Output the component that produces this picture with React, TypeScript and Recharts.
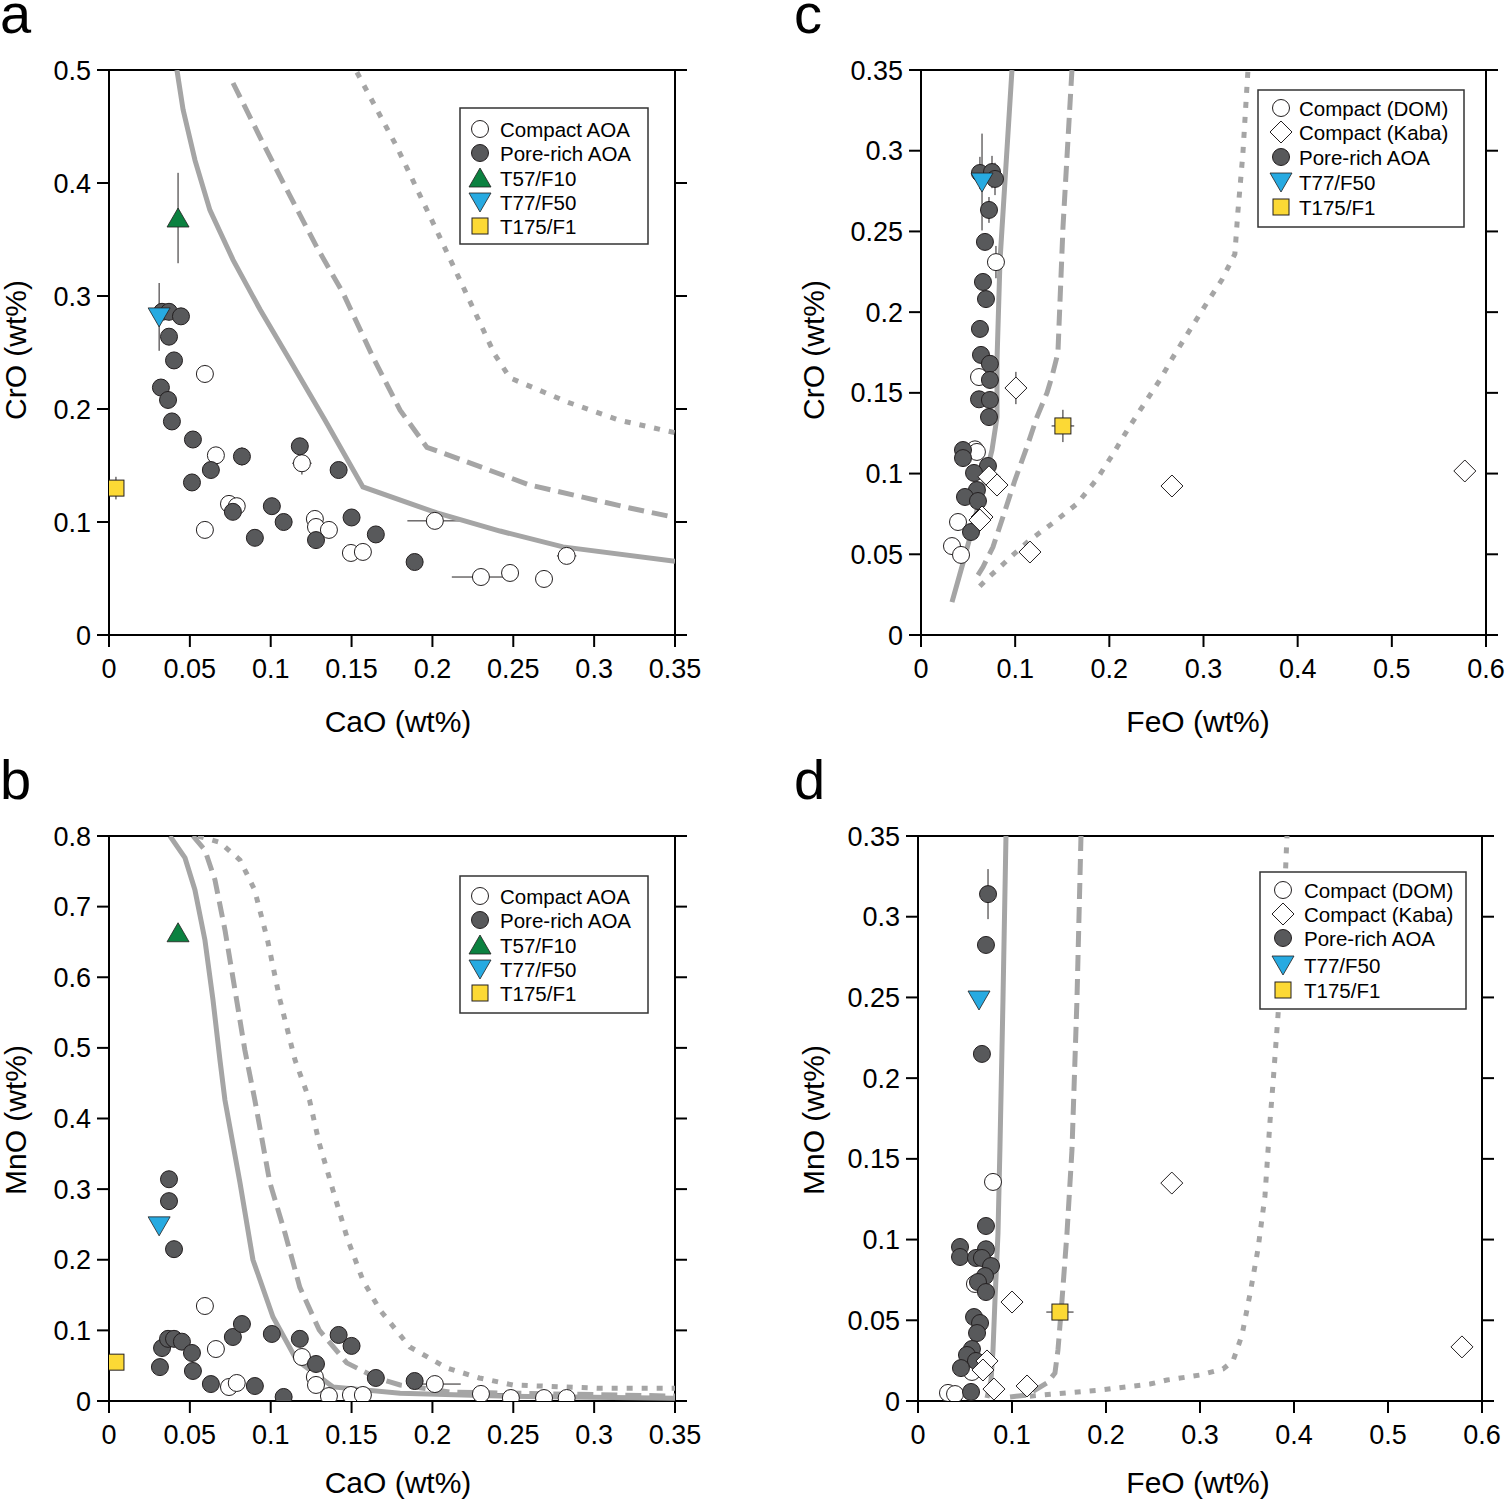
import React from 'react';
import { ScatterChart, Scatter, XAxis, YAxis, ErrorBar } from 'recharts';

type Pt = { x: number; y: number; ex?: number; ey?: number };

// ---- panel a: CrO vs CaO ----
const aCompact: Pt[] = [
  { x: 0.0593, y: 0.231, ex: 0.003, ey: 0.008 },
  { x: 0.0661, y: 0.159 },
  { x: 0.1193, y: 0.152, ex: 0.006, ey: 0.01 },
  { x: 0.0742, y: 0.116 },
  { x: 0.079, y: 0.114 },
  { x: 0.0593, y: 0.093 },
  { x: 0.1273, y: 0.1027 },
  { x: 0.128, y: 0.0956 },
  { x: 0.136, y: 0.093 },
  { x: 0.1496, y: 0.0726 },
  { x: 0.157, y: 0.0735 },
  { x: 0.2015, y: 0.101, ex: 0.017 },
  { x: 0.23, y: 0.0513, ex: 0.018 },
  { x: 0.248, y: 0.0549, ex: 0.005 },
  { x: 0.269, y: 0.0496, ex: 0.005 },
  { x: 0.283, y: 0.07, ex: 0.006 },
];
const aPore: Pt[] = [
  { x: 0.0328, y: 0.286, ey: 0.007 },
  { x: 0.0371, y: 0.286, ey: 0.007 },
  { x: 0.0445, y: 0.282, ey: 0.007 },
  { x: 0.0371, y: 0.264 },
  { x: 0.0402, y: 0.243 },
  { x: 0.0321, y: 0.219 },
  { x: 0.0365, y: 0.208 },
  { x: 0.0389, y: 0.189 },
  { x: 0.0519, y: 0.173 },
  { x: 0.063, y: 0.146 },
  { x: 0.0513, y: 0.135 },
  { x: 0.0822, y: 0.158, ey: 0.008 },
  { x: 0.0766, y: 0.109 },
  { x: 0.1007, y: 0.114 },
  { x: 0.108, y: 0.1 },
  { x: 0.0902, y: 0.086 },
  { x: 0.118, y: 0.167 },
  { x: 0.128, y: 0.084 },
  { x: 0.142, y: 0.146 },
  { x: 0.15, y: 0.104 },
  { x: 0.165, y: 0.089 },
  { x: 0.189, y: 0.0646 },
];
const aT57: Pt[] = [{ x: 0.0427, y: 0.369, ey: 0.04 }];
const aT77: Pt[] = [{ x: 0.031, y: 0.2815, ey: 0.03 }];
const aT175: Pt[] = [{ x: 0.0043, y: 0.13, ey: 0.01 }];
const aSolid: Pt[] = [
  { x: 0.042, y: 0.5 }, { x: 0.0458, y: 0.465 }, { x: 0.0532, y: 0.42 }, { x: 0.0624, y: 0.376 },
  { x: 0.0767, y: 0.332 }, { x: 0.0934, y: 0.288 }, { x: 0.112, y: 0.243 }, { x: 0.1336, y: 0.19 },
  { x: 0.157, y: 0.131 }, { x: 0.2028, y: 0.108 }, { x: 0.2418, y: 0.092 }, { x: 0.2807, y: 0.078 },
  { x: 0.35, y: 0.0652 },
];
const aDashed: Pt[] = [
  { x: 0.0767, y: 0.4885 }, { x: 0.0952, y: 0.4354 }, { x: 0.11, y: 0.394 }, { x: 0.1286, y: 0.343 },
  { x: 0.1447, y: 0.3027 }, { x: 0.1632, y: 0.246 }, { x: 0.18, y: 0.199 }, { x: 0.1966, y: 0.166 },
  { x: 0.2065, y: 0.161 }, { x: 0.26, y: 0.1328 }, { x: 0.322, y: 0.1124 }, { x: 0.35, y: 0.104 },
];
const aDotted: Pt[] = [
  { x: 0.1533, y: 0.498 }, { x: 0.178, y: 0.432 }, { x: 0.198, y: 0.372 }, { x: 0.22, y: 0.305 },
  { x: 0.2386, y: 0.248 }, { x: 0.248, y: 0.2275 }, { x: 0.2837, y: 0.206 }, { x: 0.3158, y: 0.19 },
  { x: 0.35, y: 0.179 },
];

// ---- panel b: MnO vs CaO ----
const bCompact: Pt[] = [
  { x: 0.0593, y: 0.1345 },
  { x: 0.0661, y: 0.0736 },
  { x: 0.0742, y: 0.0198 },
  { x: 0.079, y: 0.0255 },
  { x: 0.1193, y: 0.0623 },
  { x: 0.1273, y: 0.034 },
  { x: 0.128, y: 0.0227 },
  { x: 0.136, y: 0.007 },
  { x: 0.1496, y: 0.0085 },
  { x: 0.157, y: 0.0085 },
  { x: 0.2015, y: 0.024, ex: 0.016 },
  { x: 0.23, y: 0.01, ex: 0.018 },
  { x: 0.2485, y: 0.0042 },
  { x: 0.269, y: 0.0042 },
  { x: 0.283, y: 0.0042 },
];
const bPore: Pt[] = [
  { x: 0.0371, y: 0.314, ey: 0.01 },
  { x: 0.0371, y: 0.283 },
  { x: 0.0402, y: 0.215 },
  { x: 0.0328, y: 0.075 },
  { x: 0.0365, y: 0.088 },
  { x: 0.0402, y: 0.088 },
  { x: 0.0451, y: 0.084 },
  { x: 0.0315, y: 0.048 },
  { x: 0.0513, y: 0.068 },
  { x: 0.0519, y: 0.0425 },
  { x: 0.063, y: 0.024 },
  { x: 0.0766, y: 0.0906 },
  { x: 0.0822, y: 0.109 },
  { x: 0.0902, y: 0.0212 },
  { x: 0.1007, y: 0.0949 },
  { x: 0.108, y: 0.0057 },
  { x: 0.118, y: 0.088 },
  { x: 0.128, y: 0.0524 },
  { x: 0.142, y: 0.0935 },
  { x: 0.15, y: 0.078 },
  { x: 0.165, y: 0.0326 },
  { x: 0.189, y: 0.0283 },
];
const bT57: Pt[] = [{ x: 0.0427, y: 0.663 }];
const bT77: Pt[] = [{ x: 0.031, y: 0.248 }];
const bT175: Pt[] = [{ x: 0.0043, y: 0.055 }];
const bSolid: Pt[] = [
  { x: 0.0377, y: 0.8 }, { x: 0.047, y: 0.769 }, { x: 0.0531, y: 0.724 }, { x: 0.0593, y: 0.653 },
  { x: 0.0643, y: 0.568 }, { x: 0.0686, y: 0.483 }, { x: 0.0717, y: 0.426 }, { x: 0.081, y: 0.309 },
  { x: 0.089, y: 0.2 }, { x: 0.1014, y: 0.119 }, { x: 0.116, y: 0.058 }, { x: 0.1384, y: 0.02 },
  { x: 0.18, y: 0.011 }, { x: 0.2416, y: 0.007 }, { x: 0.35, y: 0.004 },
];
const bDashed: Pt[] = [
  { x: 0.0519, y: 0.8 }, { x: 0.0593, y: 0.78 }, { x: 0.0655, y: 0.738 }, { x: 0.0717, y: 0.667 },
  { x: 0.0779, y: 0.582 }, { x: 0.084, y: 0.497 }, { x: 0.0902, y: 0.426 }, { x: 0.0995, y: 0.309 },
  { x: 0.1088, y: 0.238 }, { x: 0.118, y: 0.161 }, { x: 0.13, y: 0.1005 }, { x: 0.147, y: 0.054 },
  { x: 0.1656, y: 0.0326 }, { x: 0.18, y: 0.0227 }, { x: 0.211, y: 0.0127 }, { x: 0.35, y: 0.007 },
];
const bDotted: Pt[] = [
  { x: 0.055, y: 0.8 }, { x: 0.0686, y: 0.791 }, { x: 0.081, y: 0.766 }, { x: 0.09, y: 0.724 },
  { x: 0.098, y: 0.653 }, { x: 0.1057, y: 0.568 }, { x: 0.115, y: 0.483 }, { x: 0.124, y: 0.426 },
  { x: 0.13, y: 0.365 }, { x: 0.1384, y: 0.299 }, { x: 0.1477, y: 0.228 }, { x: 0.157, y: 0.171 },
  { x: 0.1675, y: 0.129 }, { x: 0.186, y: 0.0765 }, { x: 0.209, y: 0.0467 }, { x: 0.229, y: 0.0326 },
  { x: 0.2497, y: 0.0227 }, { x: 0.3034, y: 0.018 }, { x: 0.35, y: 0.018 },
];

// ---- panel c: CrO vs FeO ----
const cDom: Pt[] = [
  { x: 0.0796, y: 0.231, ey: 0.01 },
  { x: 0.0616, y: 0.1598 },
  { x: 0.0573, y: 0.115 },
  { x: 0.0594, y: 0.1134 },
  { x: 0.0393, y: 0.07 },
  { x: 0.0329, y: 0.0551 },
  { x: 0.0425, y: 0.0496 },
];
const cKaba: Pt[] = [
  { x: 0.1008, y: 0.153, ex: 0.002, ey: 0.01 },
  { x: 0.0722, y: 0.098 },
  { x: 0.0807, y: 0.0929 },
  { x: 0.0648, y: 0.0731 },
  { x: 0.0626, y: 0.0712 },
  { x: 0.1157, y: 0.0514 },
  { x: 0.2665, y: 0.0923 },
  { x: 0.5775, y: 0.1016, ex: 0.01 },
];
const cPore: Pt[] = [
  { x: 0.0626, y: 0.2862, ey: 0.01 },
  { x: 0.0754, y: 0.2868, ey: 0.01 },
  { x: 0.0786, y: 0.2825, ey: 0.01 },
  { x: 0.0722, y: 0.2633, ey: 0.008 },
  { x: 0.0679, y: 0.2435 },
  { x: 0.0658, y: 0.2187 },
  { x: 0.069, y: 0.2081 },
  { x: 0.0626, y: 0.1896 },
  { x: 0.0637, y: 0.1735 },
  { x: 0.0732, y: 0.168 },
  { x: 0.0732, y: 0.158 },
  { x: 0.0616, y: 0.146 },
  { x: 0.0732, y: 0.1456 },
  { x: 0.0722, y: 0.135 },
  { x: 0.0446, y: 0.1146 },
  { x: 0.0446, y: 0.1096 },
  { x: 0.0711, y: 0.1047 },
  { x: 0.0563, y: 0.1004 },
  { x: 0.0594, y: 0.0898 },
  { x: 0.0467, y: 0.0855 },
  { x: 0.0605, y: 0.083 },
  { x: 0.0531, y: 0.0638 },
];
const cT77: Pt[] = [{ x: 0.0648, y: 0.2806, ey: 0.03 }];
const cT175: Pt[] = [{ x: 0.1507, y: 0.1295, ex: 0.012, ey: 0.01 }];
const cSolid: Pt[] = [
  { x: 0.0966, y: 0.35 }, { x: 0.0839, y: 0.232 }, { x: 0.0807, y: 0.17 }, { x: 0.0807, y: 0.135 },
  { x: 0.0754, y: 0.1146 }, { x: 0.0648, y: 0.0898 }, { x: 0.0541, y: 0.065 }, { x: 0.0446, y: 0.0446 },
  { x: 0.0329, y: 0.0204 },
];
const cDashed: Pt[] = [
  { x: 0.1603, y: 0.35 }, { x: 0.1508, y: 0.2528 }, { x: 0.1454, y: 0.1747 }, { x: 0.139, y: 0.16 },
  { x: 0.1338, y: 0.15 }, { x: 0.1231, y: 0.135 }, { x: 0.1125, y: 0.1165 }, { x: 0.0998, y: 0.096 },
  { x: 0.087, y: 0.0731 }, { x: 0.0764, y: 0.0545 }, { x: 0.0658, y: 0.0421 }, { x: 0.0573, y: 0.0341 },
];
const cDotted: Pt[] = [
  { x: 0.3471, y: 0.3488 }, { x: 0.3418, y: 0.298 }, { x: 0.3365, y: 0.262 }, { x: 0.3333, y: 0.236 },
  { x: 0.3195, y: 0.22 }, { x: 0.3036, y: 0.2057 }, { x: 0.2856, y: 0.189 }, { x: 0.2675, y: 0.172 },
  { x: 0.2537, y: 0.158 }, { x: 0.2357, y: 0.142 }, { x: 0.2198, y: 0.1276 }, { x: 0.2038, y: 0.112 },
  { x: 0.1868, y: 0.0966 }, { x: 0.1656, y: 0.0812 }, { x: 0.1401, y: 0.0694 }, { x: 0.1157, y: 0.0589 },
  { x: 0.0977, y: 0.0496 }, { x: 0.0839, y: 0.0421 }, { x: 0.0711, y: 0.0353 }, { x: 0.0594, y: 0.0285 },
];

// ---- panel d: MnO vs FeO ----
const dDom: Pt[] = [
  { x: 0.0798, y: 0.1357, ey: 0.004 },
  { x: 0.0606, y: 0.0725 },
  { x: 0.0574, y: 0.018 },
  { x: 0.0319, y: 0.005 },
  { x: 0.0394, y: 0.0043 },
];
const dKaba: Pt[] = [
  { x: 0.1, y: 0.0613 },
  { x: 0.0734, y: 0.0248 },
  { x: 0.0691, y: 0.0192 },
  { x: 0.0808, y: 0.0074 },
  { x: 0.116, y: 0.0093 },
  { x: 0.27, y: 0.135 },
  { x: 0.5787, y: 0.0335, ex: 0.01 },
];
const dPore: Pt[] = [
  { x: 0.0745, y: 0.314, ey: 0.0155 },
  { x: 0.0723, y: 0.2825 },
  { x: 0.068, y: 0.215 },
  { x: 0.0723, y: 0.1084 },
  { x: 0.0447, y: 0.0954 },
  { x: 0.0447, y: 0.0892 },
  { x: 0.0723, y: 0.094 },
  { x: 0.0617, y: 0.0886 },
  { x: 0.068, y: 0.0886 },
  { x: 0.0777, y: 0.0836 },
  { x: 0.0713, y: 0.0774 },
  { x: 0.0638, y: 0.0737 },
  { x: 0.0723, y: 0.0675 },
  { x: 0.0596, y: 0.052 },
  { x: 0.066, y: 0.0483 },
  { x: 0.0628, y: 0.0421 },
  { x: 0.0574, y: 0.0322 },
  { x: 0.0521, y: 0.0285 },
  { x: 0.0617, y: 0.0248 },
  { x: 0.0457, y: 0.0204 },
  { x: 0.0564, y: 0.0056 },
];
const dT77: Pt[] = [{ x: 0.0649, y: 0.2484 }];
const dT175: Pt[] = [{ x: 0.151, y: 0.0551, ex: 0.0145 }];
const dSolid: Pt[] = [
  { x: 0.0936, y: 0.35 }, { x: 0.0904, y: 0.2484 }, { x: 0.0872, y: 0.1574 }, { x: 0.0851, y: 0.104 },
  { x: 0.0819, y: 0.0626 }, { x: 0.0798, y: 0.0316 }, { x: 0.0777, y: 0.013 }, { x: 0.0734, y: 0.0019 },
];
const dDashed: Pt[] = [
  { x: 0.0979, y: 0.0025 }, { x: 0.116, y: 0.0037 }, { x: 0.1372, y: 0.0112 }, { x: 0.1457, y: 0.0173 },
  { x: 0.1489, y: 0.0316 }, { x: 0.1532, y: 0.0626 }, { x: 0.1585, y: 0.104 }, { x: 0.1638, y: 0.1555 },
  { x: 0.1691, y: 0.2484 }, { x: 0.1734, y: 0.35 },
];
const dDotted: Pt[] = [
  { x: 0.119, y: 0.003 }, { x: 0.1936, y: 0.0068 }, { x: 0.2468, y: 0.0105 }, { x: 0.2649, y: 0.013 },
  { x: 0.3, y: 0.0161 }, { x: 0.3245, y: 0.0198 }, { x: 0.3351, y: 0.0248 }, { x: 0.3447, y: 0.0409 },
  { x: 0.3532, y: 0.0663 }, { x: 0.3617, y: 0.0942 }, { x: 0.3691, y: 0.127 }, { x: 0.3745, y: 0.1735 },
  { x: 0.3777, y: 0.197 }, { x: 0.383, y: 0.239 }, { x: 0.3883, y: 0.29 }, { x: 0.3925, y: 0.35 },
];

// ---- ticks ----
const caoTicks = [0, 0.05, 0.1, 0.15, 0.2, 0.25, 0.3, 0.35];
const feoTicks = [0, 0.1, 0.2, 0.3, 0.4, 0.5, 0.6];
const cro5Ticks = [0, 0.1, 0.2, 0.3, 0.4, 0.5];
const mno8Ticks = [0, 0.1, 0.2, 0.3, 0.4, 0.5, 0.6, 0.7, 0.8];
const ox35Ticks = [0, 0.05, 0.1, 0.15, 0.2, 0.25, 0.3, 0.35];

const legendAB = ['Compact AOA', 'Pore-rich AOA', 'T57/F10', 'T77/F50', 'T175/F1'];
const legendCD = ['Compact (DOM)', 'Compact (Kaba)', 'Pore-rich AOA', 'T77/F50', 'T175/F1'];

const INK = '#231f20';
const CURVE = '#a5a5a5';
const FONT = '"Liberation Sans", Arial, sans-serif';

function mark(kind: string, cx: number, cy: number) {
  switch (kind) {
    case 'open':
      return <circle cx={cx} cy={cy} r={8.5} fill="#fff" stroke={INK} strokeWidth={1} />;
    case 'pore':
      return <circle cx={cx} cy={cy} r={8.5} fill="#58595b" stroke={INK} strokeWidth={1} />;
    case 'kaba':
      return (
        <polygon
          points={`${cx},${cy - 11} ${cx + 11},${cy} ${cx},${cy + 11} ${cx - 11},${cy}`}
          fill="#fff"
          stroke={INK}
          strokeWidth={1}
        />
      );
    case 'up':
      return (
        <polygon
          points={`${cx},${cy - 10} ${cx + 11},${cy + 9} ${cx - 11},${cy + 9}`}
          fill="#0b8140"
          stroke={INK}
          strokeWidth={0.8}
        />
      );
    case 'down':
      return (
        <polygon
          points={`${cx - 11},${cy - 9} ${cx + 11},${cy - 9} ${cx},${cy + 10}`}
          fill="#27aae1"
          stroke={INK}
          strokeWidth={0.8}
        />
      );
    default:
      return <rect x={cx - 8} y={cy - 8} width={16} height={16} fill="#fcd935" stroke={INK} strokeWidth={1} />;
  }
}

type Series = { kind: string; data: Pt[] };
type Curve = { data: Pt[]; dash?: string };
type Box = { x0: number; y0: number; x1: number; y1: number };

const axisLine = { stroke: '#000', strokeWidth: 2 };
const tickStyle = { fontSize: 27, fill: '#000', fontFamily: FONT };

function Panel({
  box, xDomain, xTicks, yDomain, yTicks, curves, series,
}: {
  box: Box; xDomain: number[]; xTicks: number[]; yDomain: number[]; yTicks: number[];
  curves: Curve[]; series: Series[];
}) {
  const L = 100, R = 45, T = 30, B = 60;
  const pw = box.x1 - box.x0, ph = box.y1 - box.y0;
  return (
    <div style={{ position: 'absolute', left: box.x0 - L, top: box.y0 - T }}>
      <ScatterChart width={L + pw + R} height={T + ph + B} margin={{ top: 0, right: 0, bottom: 0, left: 0 }}>
        <XAxis
          xAxisId="b" type="number" dataKey="x" orientation="bottom" height={B}
          domain={xDomain} ticks={xTicks} allowDataOverflow interval={0}
          axisLine={axisLine} tickLine={axisLine} tickSize={12} tickMargin={12} tick={tickStyle}
        />
        <XAxis
          xAxisId="t" type="number" orientation="top" height={T}
          domain={xDomain} ticks={xTicks} allowDataOverflow interval={0}
          axisLine={axisLine} tickLine={axisLine} tickSize={12} tickFormatter={() => ''}
        />
        <YAxis
          yAxisId="l" type="number" dataKey="y" orientation="left" width={L}
          domain={yDomain} ticks={yTicks} allowDataOverflow interval={0}
          axisLine={axisLine} tickLine={axisLine} tickSize={12} tickMargin={6} tick={tickStyle}
        />
        <YAxis
          yAxisId="r" type="number" orientation="right" width={R}
          domain={yDomain} ticks={yTicks} allowDataOverflow interval={0}
          axisLine={axisLine} tickLine={axisLine} tickSize={12} tickFormatter={() => ''}
        />
        {curves.map((c, i) => (
          <Scatter
            key={'c' + i}
            xAxisId="b"
            yAxisId="l"
            data={c.data}
            line={{ stroke: CURVE, strokeWidth: 5, strokeDasharray: c.dash }}
            lineType="joint"
            shape={() => <g />}
            isAnimationActive={false}
          />
        ))}
        {series.map((s, i) => (
          <Scatter
            key={'s' + i}
            xAxisId="b"
            yAxisId="l"
            data={s.data}
            shape={(p: any) => mark(s.kind, p.cx, p.cy)}
            isAnimationActive={false}
          >
            <ErrorBar dataKey="ey" direction="y" width={0} stroke={INK} strokeWidth={1} />
            <ErrorBar dataKey="ex" direction="x" width={0} stroke={INK} strokeWidth={1} />
          </Scatter>
        ))}
      </ScatterChart>
    </div>
  );
}

function LegendBox({
  x, y, w, h, symX, textX, rows, labels, kinds,
}: {
  x: number; y: number; w: number; h: number; symX: number; textX: number;
  rows: number[]; labels: string[]; kinds: string[];
}) {
  return (
    <g>
      <rect x={x} y={y} width={w} height={h} fill="#fff" stroke="#333" strokeWidth={1.5} />
      {labels.map((lab, i) => (
        <g key={lab}>
          {mark(kinds[i], symX, rows[i])}
          <text x={textX} y={rows[i] + 7.5} fontSize={20.5} fontFamily={FONT} fill="#000">
            {lab}
          </text>
        </g>
      ))}
    </g>
  );
}

export default function App() {
  const curvesOf = (s: Pt[], d: Pt[], o: Pt[]): Curve[] => [
    { data: o, dash: '6 9' },
    { data: d, dash: '16 8' },
    { data: s },
  ];
  const titleStyle = { fontSize: 30, fontFamily: FONT, fill: '#000' } as const;
  const letter = { fontSize: 56, fontFamily: FONT, fill: '#000' } as const;
  return (
    <div style={{ position: 'absolute', left: 0, top: 0, width: 1505, height: 1500, background: '#fff' }}>
      <Panel
        box={{ x0: 109, y0: 70, x1: 675, y1: 635 }}
        xDomain={[0, 0.35]} xTicks={caoTicks} yDomain={[0, 0.5]} yTicks={cro5Ticks}
        curves={curvesOf(aSolid, aDashed, aDotted)}
        series={[
          { kind: 'open', data: aCompact },
          { kind: 'pore', data: aPore },
          { kind: 'down', data: aT77 },
          { kind: 'up', data: aT57 },
          { kind: 'sq', data: aT175 },
        ]}
      />
      <Panel
        box={{ x0: 109, y0: 836, x1: 675, y1: 1401 }}
        xDomain={[0, 0.35]} xTicks={caoTicks} yDomain={[0, 0.8]} yTicks={mno8Ticks}
        curves={curvesOf(bSolid, bDashed, bDotted)}
        series={[
          { kind: 'open', data: bCompact },
          { kind: 'pore', data: bPore },
          { kind: 'down', data: bT77 },
          { kind: 'up', data: bT57 },
          { kind: 'sq', data: bT175 },
        ]}
      />
      <Panel
        box={{ x0: 921, y0: 70, x1: 1486, y1: 635 }}
        xDomain={[0, 0.6]} xTicks={feoTicks} yDomain={[0, 0.35]} yTicks={ox35Ticks}
        curves={curvesOf(cSolid, cDashed, cDotted)}
        series={[
          { kind: 'open', data: cDom },
          { kind: 'pore', data: cPore },
          { kind: 'kaba', data: cKaba },
          { kind: 'down', data: cT77 },
          { kind: 'sq', data: cT175 },
        ]}
      />
      <Panel
        box={{ x0: 918, y0: 836, x1: 1482, y1: 1401 }}
        xDomain={[0, 0.6]} xTicks={feoTicks} yDomain={[0, 0.35]} yTicks={ox35Ticks}
        curves={curvesOf(dSolid, dDashed, dDotted)}
        series={[
          { kind: 'open', data: dDom },
          { kind: 'pore', data: dPore },
          { kind: 'kaba', data: dKaba },
          { kind: 'down', data: dT77 },
          { kind: 'sq', data: dT175 },
        ]}
      />
      <svg
        width={1505}
        height={1500}
        style={{ position: 'absolute', left: 0, top: 0, pointerEvents: 'none' }}
      >
        <text x={0} y={33} {...letter}>a</text>
        <text x={0} y={799} {...letter}>b</text>
        <text x={794} y={33} {...letter}>c</text>
        <text x={794} y={799} {...letter}>d</text>

        <text x={398} y={732} textAnchor="middle" {...titleStyle}>CaO (wt%)</text>
        <text x={398} y={1493} textAnchor="middle" {...titleStyle}>CaO (wt%)</text>
        <text x={1198} y={732} textAnchor="middle" {...titleStyle}>FeO (wt%)</text>
        <text x={1198} y={1493} textAnchor="middle" {...titleStyle}>FeO (wt%)</text>
        <text transform="translate(26,350) rotate(-90)" textAnchor="middle" {...titleStyle}>CrO (wt%)</text>
        <text transform="translate(26,1120) rotate(-90)" textAnchor="middle" {...titleStyle}>MnO (wt%)</text>
        <text transform="translate(824,350) rotate(-90)" textAnchor="middle" {...titleStyle}>CrO (wt%)</text>
        <text transform="translate(824,1120) rotate(-90)" textAnchor="middle" {...titleStyle}>MnO (wt%)</text>

        <LegendBox x={460} y={108} w={188} h={136} symX={480} textX={500}
          rows={[129, 153, 178, 202, 226]} labels={legendAB} kinds={['open', 'pore', 'up', 'down', 'sq']} />
        <LegendBox x={460} y={876} w={188} h={137} symX={480} textX={500}
          rows={[896, 920, 945, 969, 993]} labels={legendAB} kinds={['open', 'pore', 'up', 'down', 'sq']} />
        <LegendBox x={1258} y={90} w={206} h={137} symX={1281} textX={1299}
          rows={[108, 132, 157, 182, 207]} labels={legendCD} kinds={['open', 'kaba', 'pore', 'down', 'sq']} />
        <LegendBox x={1260} y={872} w={206} h={137} symX={1283} textX={1304}
          rows={[890, 914, 938, 965, 990]} labels={legendCD} kinds={['open', 'kaba', 'pore', 'down', 'sq']} />
      </svg>
    </div>
  );
}
